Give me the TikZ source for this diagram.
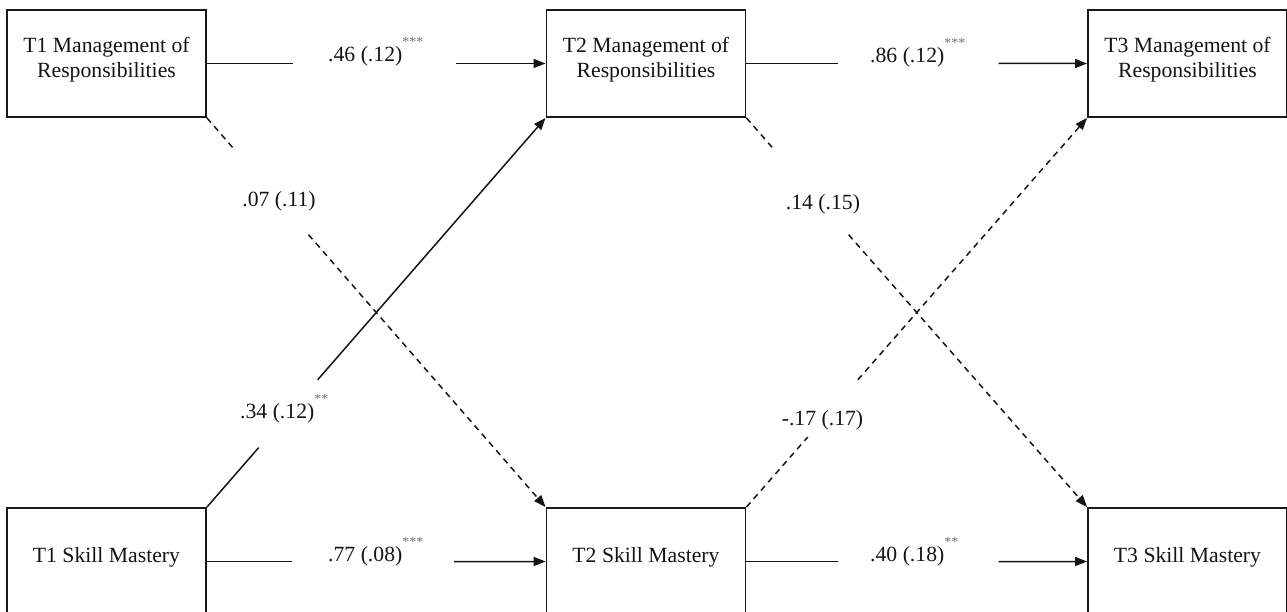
\documentclass[tikz,border=0pt]{standalone}
\usepackage{fontspec}
\setmainfont{Liberation Serif}
\usetikzlibrary{arrows.meta,calc}
\tikzset{
  boxnode/.style={draw=black!90, line width=1.9pt, minimum width=199pt, minimum height=107pt, inner sep=0pt},
  boxtext/.style={inner sep=0pt, align=center, font=\fontsize{21.7}{25}\selectfont, text=black!92},
  lbl/.style={inner sep=0pt, font=\fontsize{21.7}{25}\selectfont, text=black!92},
  conn/.style={line width=1.5pt, draw=black!92},
  dashconn/.style={conn, dash pattern=on 6pt off 5pt},
  tip/.style={-{Triangle[length=12pt,width=9pt]}}
}
\newcommand{\sigstar}[1]{\raisebox{15pt}{\fontsize{14}{14}\selectfont\textcolor{black!55}{#1}}}
\begin{document}
\begin{tikzpicture}[x=1pt,y=-1pt]
\useasboundingbox (0,0) rectangle (1287,612);
% boxes
\node[boxnode] (t1m) at (106.5,63.5) {};
\node[boxnode] (t2m) at (646,63.5) {};
\node[boxnode] (t3m) at (1187.5,63.5) {};
\node[boxnode] (t1s) at (106.5,561.5) {};
\node[boxnode] (t2s) at (646,561.5) {};
\node[boxnode] (t3s) at (1187.5,561.5) {};
% box texts
\node[boxtext] (t1mt) at (106.5,59.5) {T1 Management of\\Responsibilities};
\node[boxtext] (t2mt) at (646,59.5) {T2 Management of\\Responsibilities};
\node[boxtext] (t3mt) at (1187.5,59.5) {T3 Management of\\Responsibilities};
\node[boxtext, anchor=base] (t1st) at (106.5,562) {T1 Skill Mastery};
\node[boxtext, anchor=base] (t2st) at (646,562) {T2 Skill Mastery};
\node[boxtext, anchor=base] (t3st) at (1187.5,562) {T3 Skill Mastery};
% horizontal connectors
\draw[conn] (t1m.east) -- ($(t1m.east)!0.255!(t2m.west)$);
\draw[conn,tip] ($(t1m.east)!0.736!(t2m.west)$) -- (t2m.west);
\draw[conn] (t2m.east) -- ($(t2m.east)!0.268!(t3m.west)$);
\draw[conn,tip] ($(t2m.east)!0.74!(t3m.west)$) -- (t3m.west);
\draw[conn] (t1s.east) -- ($(t1s.east)!0.25!(t2s.west)$);
\draw[conn,tip] ($(t1s.east)!0.73!(t2s.west)$) -- (t2s.west);
\draw[conn] (t2s.east) -- ($(t2s.east)!0.268!(t3s.west)$);
\draw[conn,tip] ($(t2s.east)!0.74!(t3s.west)$) -- (t3s.west);
% diagonal connectors
\draw[dashconn] (t1m.south east) -- ($(t1m.south east)!0.08!(t2s.north west)$);
\draw[dashconn,tip] ($(t1m.south east)!0.30!(t2s.north west)$) -- (t2s.north west);
\draw[conn] (t1s.north east) -- ($(t1s.north east)!0.153!(t2m.south west)$);
\draw[conn,tip] ($(t1s.north east)!0.327!(t2m.south west)$) -- (t2m.south west);
\draw[dashconn] (t2m.south east) -- ($(t2m.south east)!0.08!(t3s.north west)$);
\draw[dashconn,tip] ($(t2m.south east)!0.30!(t3s.north west)$) -- (t3s.north west);
\draw[dashconn] (t2s.north east) -- ($(t2s.north east)!0.18!(t3m.south west)$);
\draw[dashconn,tip] ($(t2s.north east)!0.327!(t3m.south west)$) -- (t3m.south west);
% labels
\node[lbl, anchor=base west] (l1) at (328,62) {.46 (.12)\sigstar{***}};
\node[lbl, anchor=base west] (l2) at (870,63) {.86 (.12)\sigstar{***}};
\node[lbl, anchor=base west] (l3) at (328,561) {.77 (.08)\sigstar{***}};
\node[lbl, anchor=base west] (l4) at (870,561) {.40 (.18)\sigstar{**}};
\node[lbl, anchor=base] (l5) at (279,207) {.07 (.11)};
\node[lbl, anchor=base] (l6) at (823,210) {.14 (.15)};
\node[lbl, anchor=base west] (l7) at (240,418) {.34 (.12)\sigstar{**}};
\node[lbl, anchor=base] (l8) at (822.5,425) {-.17 (.17)};
\end{tikzpicture}
\end{document}
